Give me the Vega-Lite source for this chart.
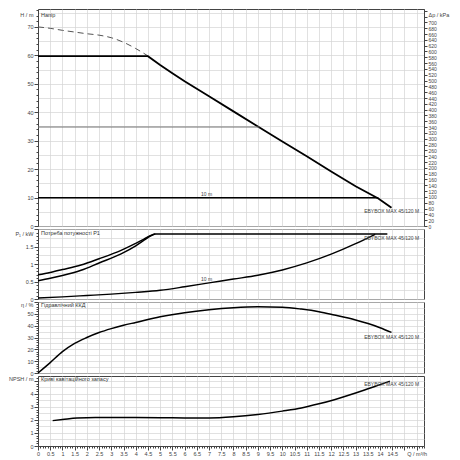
{
  "$schema": "https://vega.github.io/schema/vega-lite/v6.json",
  "padding": {"left": 8, "top": 7, "right": 2, "bottom": 2},
  "spacing": 3,
  "bounds": "flush",
  "config": {
    "view": {"stroke": "#444", "strokeWidth": 1},
    "axis": {
      "labelFont": "Liberation Sans", "labelFontSize": 5.5, "labelColor": "#444",
      "titleFont": "Liberation Sans", "titleFontSize": 5.5, "titleFontWeight": "normal", "titleColor": "#444",
      "domainColor": "#444", "tickColor": "#444", "gridColor": "#d4d4d4", "gridWidth": 0.7,
      "labelOverlap": false, "labelFlush": false, "labelPadding": 1, "labelBound": false
    },
    "text": {"font": "Liberation Sans", "fontSize": 5.5, "fill": "#444"},
    "line": {"interpolate": "monotone"}
  },
  "vconcat": [
    {
      "width": 386, "height": 217,
      "layer": [
        {
          "layer": [
            {
              "data": {"values": [{"x":0,"y":70},{"x":0.5,"y":69.5},{"x":1,"y":68.8},{"x":1.5,"y":68.2},{"x":2,"y":67.6},{"x":2.5,"y":67.1},{"x":3,"y":66.2},{"x":3.5,"y":64.6},{"x":4,"y":62.4},{"x":4.5,"y":59.8}]},
              "mark": {"type": "line", "color": "#555", "strokeWidth": 1, "strokeDash": [6, 4]},
              "encoding": {
                "x": {"field": "x", "type": "quantitative", "scale": {"domain": [0, 15.8], "nice": false},
                  "axis": {"title": null, "labels": false, "ticks": false, "domain": false, "grid": true, "labelOverlap": false, "tickCount": 1000,
                    "values": [0,0.5,1,1.5,2,2.5,3,3.5,4,4.5,5,5.5,6,6.5,7,7.5,8,8.5,9,9.5,10,10.5,11,11.5,12,12.5,13,13.5,14,14.5,15,15.5]}},
                "y": {"field": "y", "type": "quantitative", "scale": {"domain": [0, 76.3], "nice": false},
                  "axis": {"title": "H / m", "titleAngle": 0, "titleAlign": "right", "titleBaseline": "middle", "titleX": -5, "titleY": 5, "labelOverlap": false, "tickCount": 1000,
                    "values": [0,1,2,3,4,5,6,7,8,9,10,11,12,13,14,15,16,17,18,19,20,21,22,23,24,25,26,27,28,29,30,31,32,33,34,35,36,37,38,39,40,41,42,43,44,45,46,47,48,49,50,51,52,53,54,55,56,57,58,59,60,61,62,63,64,65,66,67,68,69,70,71,72,73,74,75,76],
                    "labelExpr": "datum.value % 10 === 0 && datum.value <= 70 ? '' + datum.value : ''",
                    "tickSize": {"condition": {"test": "datum.value % 10 === 0", "value": 4}, "value": 2},
                    "tickOpacity": {"condition": {"test": "datum.value % 2 === 0", "value": 1}, "value": 0},
                    "gridOpacity": {"condition": {"test": "datum.value % 5 === 0", "value": 1}, "value": 0}}}
              }
            },
            {
              "data": {"values": [{"x":0,"y":59.7},{"x":4.5,"y":59.7},{"x":5,"y":56.6},{"x":5.5,"y":53.7},{"x":6,"y":50.9},{"x":7,"y":45.6},{"x":8,"y":40.3},{"x":9,"y":35.0},{"x":10,"y":29.7},{"x":11,"y":24.5},{"x":12,"y":19.2},{"x":13,"y":14.0},{"x":13.93,"y":9.7},{"x":14.47,"y":6.4}]},
              "mark": {"type": "line", "color": "#000", "strokeWidth": 1.8, "interpolate": "linear"},
              "encoding": {"x": {"field": "x", "type": "quantitative"}, "y": {"field": "y", "type": "quantitative"}}
            },
            {
              "data": {"values": [{"x":0,"y":34.8},{"x":9.06,"y":34.8}]},
              "mark": {"type": "line", "color": "#777", "strokeWidth": 1},
              "encoding": {"x": {"field": "x", "type": "quantitative"}, "y": {"field": "y", "type": "quantitative"}}
            },
            {
              "data": {"values": [{"x":0,"y":9.9},{"x":13.93,"y":9.9}]},
              "mark": {"type": "line", "color": "#000", "strokeWidth": 1.5},
              "encoding": {"x": {"field": "x", "type": "quantitative"}, "y": {"field": "y", "type": "quantitative"}}
            },
            {
              "data": {"values": [{"x":6.9,"y":11.3,"t":"10 m"}]},
              "mark": {"type": "text", "align": "center", "baseline": "middle", "fontSize": 5},
              "encoding": {"x": {"field": "x", "type": "quantitative"}, "y": {"field": "y", "type": "quantitative"}, "text": {"field": "t"}}
            },
            {
              "data": {"values": [{"x":13.35,"y":5.3,"t":"EBYBOX MAX 45/120 M"}]},
              "mark": {"type": "text", "align": "left", "baseline": "middle", "fontSize": 5},
              "encoding": {"x": {"field": "x", "type": "quantitative"}, "y": {"field": "y", "type": "quantitative"}, "text": {"field": "t"}}
            },
            {
              "data": {"values": [{"x":0,"y":76.3,"t":"Напір"}]},
              "mark": {"type": "text", "align": "left", "baseline": "middle", "dx": 3, "dy": 6, "fill": "#333"},
              "encoding": {"x": {"field": "x", "type": "quantitative"}, "y": {"field": "y", "type": "quantitative"}, "text": {"field": "t"}}
            }
          ]
        },
        {
          "data": {"values": [{"kpa": 0}, {"kpa": 746}]},
          "mark": {"type": "rule", "opacity": 0},
          "encoding": {
            "y": {"field": "kpa", "type": "quantitative", "scale": {"domain": [0, 746], "nice": false},
              "axis": {"orient": "right", "title": "Δp / kPa", "titleAngle": 0, "titleAlign": "left", "titleBaseline": "middle", "titleX": 4, "titleY": 5,
                "grid": false, "tickSize": 3, "labelFontSize": 5, "labelOverlap": false, "tickCount": 1000,
                "values": [0,20,40,60,80,100,120,140,160,180,200,220,240,260,280,300,320,340,360,380,400,420,440,460,480,500,520,540,560,580,600,620,640,660,680,700,720,740],
                "labelExpr": "datum.value <= 700 ? '' + datum.value : ''"}}
          }
        }
      ],
      "resolve": {"scale": {"y": "independent"}}
    },
    {
      "width": 386, "height": 70,
      "layer": [
        {
          "data": {"values": [{"x":0,"y":0.69},{"x":0.5,"y":0.76},{"x":1,"y":0.84},{"x":1.76,"y":0.97},{"x":2.5,"y":1.15},{"x":3.4,"y":1.39},{"x":4,"y":1.59},{"x":4.34,"y":1.71},{"x":4.6,"y":1.81},{"x":4.8,"y":1.86},{"x":14.3,"y":1.86}]},
          "mark": {"type": "line", "color": "#000", "strokeWidth": 1.5},
          "encoding": {
            "x": {"field": "x", "type": "quantitative", "scale": {"domain": [0, 15.8], "nice": false},
              "axis": {"title": null, "labels": false, "ticks": false, "domain": false, "grid": true, "labelOverlap": false, "tickCount": 1000,
                "values": [0,0.5,1,1.5,2,2.5,3,3.5,4,4.5,5,5.5,6,6.5,7,7.5,8,8.5,9,9.5,10,10.5,11,11.5,12,12.5,13,13.5,14,14.5,15,15.5]}},
            "y": {"field": "y", "type": "quantitative", "scale": {"domain": [0, 2], "nice": false},
              "axis": {"title": "P₁ / kW", "titleAngle": 0, "titleAlign": "right", "titleBaseline": "middle", "titleX": -5, "titleY": 4, "labelOverlap": false, "tickCount": 1000,
                "values": [0,0.05,0.1,0.15,0.2,0.25,0.3,0.35,0.4,0.45,0.5,0.55,0.6,0.65,0.7,0.75,0.8,0.85,0.9,0.95,1,1.05,1.1,1.15,1.2,1.25,1.3,1.35,1.4,1.45,1.5,1.55,1.6,1.65,1.7,1.75,1.8,1.85,1.9,1.95,2],
                "labelExpr": "abs(datum.value*2-round(datum.value*2))<0.01 && datum.value < 1.9 ? format(datum.value, '~g') : ''",
                "tickSize": {"condition": {"test": "abs(datum.value*2-round(datum.value*2))<0.01", "value": 4}, "value": 2},
                "tickOpacity": {"condition": {"test": "abs(datum.value*10-round(datum.value*10))<0.01", "value": 1}, "value": 0},
                "gridOpacity": {"condition": {"test": "abs(datum.value*4-round(datum.value*4))<0.01", "value": 1}, "value": 0}}}
          }
        },
        {
          "data": {"values": [{"x":0,"y":0.52},{"x":0.5,"y":0.59},{"x":1,"y":0.67},{"x":1.76,"y":0.82},{"x":2.5,"y":1.03},{"x":3.4,"y":1.29},{"x":4,"y":1.52},{"x":4.34,"y":1.68},{"x":4.6,"y":1.8},{"x":4.8,"y":1.86}]},
          "mark": {"type": "line", "color": "#000", "strokeWidth": 1.5},
          "encoding": {"x": {"field": "x", "type": "quantitative"}, "y": {"field": "y", "type": "quantitative"}}
        },
        {
          "data": {"values": [{"x":0,"y":0.03},{"x":1,"y":0.06},{"x":2,"y":0.1},{"x":3,"y":0.14},{"x":4,"y":0.19},{"x":5,"y":0.25},{"x":6,"y":0.35},{"x":7,"y":0.46},{"x":8,"y":0.57},{"x":9,"y":0.68},{"x":10,"y":0.83},{"x":11,"y":1.03},{"x":12,"y":1.28},{"x":13,"y":1.58},{"x":13.8,"y":1.85}]},
          "mark": {"type": "line", "color": "#000", "strokeWidth": 1.4},
          "encoding": {"x": {"field": "x", "type": "quantitative"}, "y": {"field": "y", "type": "quantitative"}}
        },
        {
          "data": {"values": [{"x":6.9,"y":0.56,"t":"10 m"}]},
          "mark": {"type": "text", "align": "center", "baseline": "middle", "fontSize": 5},
          "encoding": {"x": {"field": "x", "type": "quantitative"}, "y": {"field": "y", "type": "quantitative"}, "text": {"field": "t"}}
        },
        {
          "data": {"values": [{"x":13.35,"y":1.74,"t":"EBYBOX MAX 45/120 M"}]},
          "mark": {"type": "text", "align": "left", "baseline": "middle", "fontSize": 5},
          "encoding": {"x": {"field": "x", "type": "quantitative"}, "y": {"field": "y", "type": "quantitative"}, "text": {"field": "t"}}
        },
        {
          "data": {"values": [{"x":0,"y":2,"t":"Потреба  потужності P1"}]},
          "mark": {"type": "text", "align": "left", "baseline": "middle", "dx": 3, "dy": 4, "fill": "#333"},
          "encoding": {"x": {"field": "x", "type": "quantitative"}, "y": {"field": "y", "type": "quantitative"}, "text": {"field": "t"}}
        }
      ]
    },
    {
      "width": 386, "height": 71,
      "layer": [
        {
          "data": {"values": [{"x":0,"y":0},{"x":0.5,"y":8.8},{"x":1,"y":18},{"x":1.5,"y":25},{"x":2,"y":30},{"x":2.5,"y":34.2},{"x":3,"y":37.5},{"x":3.5,"y":40.3},{"x":4,"y":42.7},{"x":5,"y":47.5},{"x":6,"y":51},{"x":7,"y":53.5},{"x":8,"y":55.2},{"x":9,"y":56},{"x":10,"y":55.6},{"x":10.78,"y":54},{"x":11.5,"y":51.8},{"x":12.13,"y":49},{"x":13,"y":44.8},{"x":13.51,"y":41.8},{"x":14,"y":38.3},{"x":14.47,"y":34.3}]},
          "mark": {"type": "line", "color": "#000", "strokeWidth": 1.5},
          "encoding": {
            "x": {"field": "x", "type": "quantitative", "scale": {"domain": [0, 15.8], "nice": false},
              "axis": {"title": null, "labels": false, "ticks": false, "domain": false, "grid": true, "labelOverlap": false, "tickCount": 1000,
                "values": [0,0.5,1,1.5,2,2.5,3,3.5,4,4.5,5,5.5,6,6.5,7,7.5,8,8.5,9,9.5,10,10.5,11,11.5,12,12.5,13,13.5,14,14.5,15,15.5]}},
            "y": {"field": "y", "type": "quantitative", "scale": {"domain": [0, 60], "nice": false},
              "axis": {"title": "η / %", "titleAngle": 0, "titleAlign": "right", "titleBaseline": "middle", "titleX": -5, "titleY": 2, "labelOverlap": false, "tickCount": 1000,
                "values": [0,1,2,3,4,5,6,7,8,9,10,11,12,13,14,15,16,17,18,19,20,21,22,23,24,25,26,27,28,29,30,31,32,33,34,35,36,37,38,39,40,41,42,43,44,45,46,47,48,49,50,51,52,53,54,55,56,57,58,59,60],
                "labelExpr": "datum.value % 10 === 0 && datum.value <= 50 ? '' + datum.value : ''",
                "tickSize": {"condition": {"test": "datum.value % 10 === 0", "value": 4}, "value": 2},
                "tickOpacity": {"condition": {"test": "datum.value % 2 === 0", "value": 1}, "value": 0},
                "gridOpacity": {"condition": {"test": "datum.value % 5 === 0", "value": 1}, "value": 0}}}
          }
        },
        {
          "data": {"values": [{"x":13.35,"y":30.4,"t":"EBYBOX MAX 45/120 M"}]},
          "mark": {"type": "text", "align": "left", "baseline": "middle", "fontSize": 5},
          "encoding": {"x": {"field": "x", "type": "quantitative"}, "y": {"field": "y", "type": "quantitative"}, "text": {"field": "t"}}
        },
        {
          "data": {"values": [{"x":0,"y":60,"t":"Гідравлічний ККД"}]},
          "mark": {"type": "text", "align": "left", "baseline": "middle", "dx": 3, "dy": 3, "fill": "#333"},
          "encoding": {"x": {"field": "x", "type": "quantitative"}, "y": {"field": "y", "type": "quantitative"}, "text": {"field": "t"}}
        }
      ]
    },
    {
      "width": 386, "height": 70,
      "layer": [
        {
          "data": {"values": [{"x":0.6,"y":1.95},{"x":1,"y":2.03},{"x":1.6,"y":2.15},{"x":2,"y":2.18},{"x":3,"y":2.19},{"x":4,"y":2.19},{"x":5,"y":2.18},{"x":6,"y":2.16},{"x":7,"y":2.15},{"x":8,"y":2.24},{"x":9,"y":2.42},{"x":10,"y":2.68},{"x":10.78,"y":2.92},{"x":11.5,"y":3.24},{"x":12.13,"y":3.56},{"x":13,"y":4.07},{"x":13.51,"y":4.4},{"x":14,"y":4.72},{"x":14.4,"y":4.98}]},
          "mark": {"type": "line", "color": "#000", "strokeWidth": 1.5},
          "encoding": {
            "x": {"field": "x", "type": "quantitative", "scale": {"domain": [0, 15.8], "nice": false},
              "axis": {"title": null, "grid": true, "labelPadding": 1, "labelOverlap": false, "labelFlush": false, "tickCount": 1000,
                "values": [0,0.1,0.2,0.3,0.4,0.5,0.6,0.7,0.8,0.9,1,1.1,1.2,1.3,1.4,1.5,1.6,1.7,1.8,1.9,2,2.1,2.2,2.3,2.4,2.5,2.6,2.7,2.8,2.9,3,3.1,3.2,3.3,3.4,3.5,3.6,3.7,3.8,3.9,4,4.1,4.2,4.3,4.4,4.5,4.6,4.7,4.8,4.9,5,5.1,5.2,5.3,5.4,5.5,5.6,5.7,5.8,5.9,6,6.1,6.2,6.3,6.4,6.5,6.6,6.7,6.8,6.9,7,7.1,7.2,7.3,7.4,7.5,7.6,7.7,7.8,7.9,8,8.1,8.2,8.3,8.4,8.5,8.6,8.7,8.8,8.9,9,9.1,9.2,9.3,9.4,9.5,9.6,9.7,9.8,9.9,10,10.1,10.2,10.3,10.4,10.5,10.6,10.7,10.8,10.9,11,11.1,11.2,11.3,11.4,11.5,11.6,11.7,11.8,11.9,12,12.1,12.2,12.3,12.4,12.5,12.6,12.7,12.8,12.9,13,13.1,13.2,13.3,13.4,13.5,13.6,13.7,13.8,13.9,14,14.1,14.2,14.3,14.4,14.5,14.6,14.7,14.8,14.9,15,15.1,15.2,15.3,15.4,15.5,15.6,15.7,15.8],
                "labelExpr": "abs(datum.value*2-round(datum.value*2))<0.01 && datum.value <= 14.51 ? format(datum.value, '~g') : (abs(datum.value-15.5)<0.01 ? 'Q / m³/h' : '')",
                "tickSize": {"condition": {"test": "abs(datum.value*2-round(datum.value*2))<0.01", "value": 4}, "value": 2},
                "gridOpacity": {"condition": {"test": "abs(datum.value*2-round(datum.value*2))<0.01", "value": 1}, "value": 0}}},
            "y": {"field": "y", "type": "quantitative", "scale": {"domain": [0, 5.38], "nice": false},
              "axis": {"title": "NPSH / m", "titleAngle": 0, "titleAlign": "right", "titleBaseline": "middle", "titleX": -5, "titleY": 2, "labelOverlap": false, "tickCount": 1000,
                "values": [0,0.1,0.2,0.3,0.4,0.5,0.6,0.7,0.8,0.9,1,1.1,1.2,1.3,1.4,1.5,1.6,1.7,1.8,1.9,2,2.1,2.2,2.3,2.4,2.5,2.6,2.7,2.8,2.9,3,3.1,3.2,3.3,3.4,3.5,3.6,3.7,3.8,3.9,4,4.1,4.2,4.3,4.4,4.5,4.6,4.7,4.8,4.9,5,5.1,5.2,5.3],
                "labelExpr": "abs(datum.value-round(datum.value))<0.01 && datum.value <= 4 ? format(datum.value, '~g') : ''",
                "tickSize": {"condition": {"test": "abs(datum.value-round(datum.value))<0.01", "value": 4}, "value": 2},
                "tickOpacity": {"condition": {"test": "abs(datum.value*5-round(datum.value*5))<0.01", "value": 1}, "value": 0},
                "gridOpacity": {"condition": {"test": "abs(datum.value*2-round(datum.value*2))<0.01", "value": 1}, "value": 0}}}
          }
        },
        {
          "data": {"values": [{"x":13.35,"y":4.75,"t":"EBYBOX MAX 45/120 M"}]},
          "mark": {"type": "text", "align": "left", "baseline": "middle", "fontSize": 5},
          "encoding": {"x": {"field": "x", "type": "quantitative"}, "y": {"field": "y", "type": "quantitative"}, "text": {"field": "t"}}
        },
        {
          "data": {"values": [{"x":0,"y":5.38,"t":"Криві кавітаційного запасу"}]},
          "mark": {"type": "text", "align": "left", "baseline": "middle", "dx": 3, "dy": 3, "fill": "#333"},
          "encoding": {"x": {"field": "x", "type": "quantitative"}, "y": {"field": "y", "type": "quantitative"}, "text": {"field": "t"}}
        }
      ]
    }
  ]
}
